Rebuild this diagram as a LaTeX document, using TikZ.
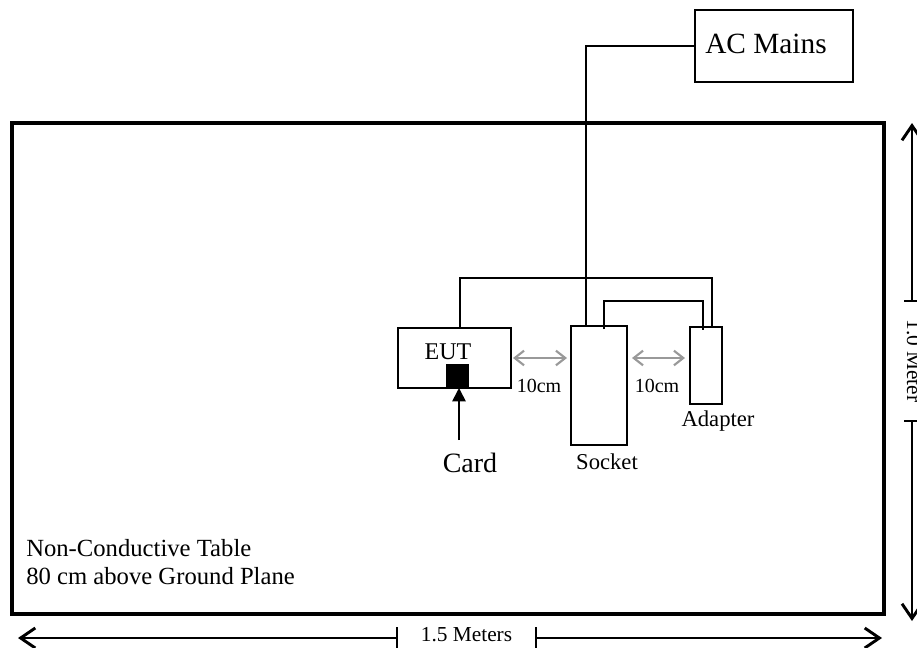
\documentclass[tikz,border=0pt]{standalone}
\usepackage{fontspec}
\setmainfont{Liberation Serif}
\usetikzlibrary{arrows.meta,positioning,calc}
\definecolor{ecGray}{HTML}{999999}
\tikzset{
  box/.style={draw=black, line width=1.5pt, inner sep=0pt, outer sep=0pt},
  wire/.style={line width=1.5pt},
  gap/.style={{Straight Barb[length=7pt,width=11pt,line width=1.6pt]}-{Straight Barb[length=7pt,width=11pt,line width=1.6pt]}, draw=ecGray, line width=1.4pt},
  dim/.style={-{Straight Barb[length=11pt,width=15pt,line width=2.2pt]}, line width=1.3pt},
  tick/.style={line width=1.3pt},
  lbl/.style={inner sep=0pt, font=\fontsize{17}{20}\selectfont},
}
\begin{document}
\begin{tikzpicture}[x=0.75pt, y=-0.75pt]
\useasboundingbox (0,0) rectangle (917,647);
% table and mains
\node[box, line width=2.6pt, minimum width=654pt, minimum height=368.25pt] (table) at (448,368.5) {};
\node[box, line width=1.1pt, minimum width=118.5pt, minimum height=54pt] (mains) at (774,46) {};
\node[lbl, font=\fontsize{22}{26}\selectfont] (mainslbl) at (766,44) {AC Mains};
% devices
\node[box, minimum width=84.75pt, minimum height=45pt] (eut) at (454.5,358) {};
\node[lbl, font=\fontsize{18}{21}\selectfont] (eutlbl) at (448,352) {EUT};
\node[box, fill=black, minimum width=15.75pt, minimum height=17.25pt] (slot) at (457.5,376.5) {};
\node[box, minimum width=42pt, minimum height=89.25pt] (socket) at (599,385.5) {};
\node[box, minimum width=24pt, minimum height=57.75pt] (adapter) at (706,365.5) {};
\node[lbl, font=\fontsize{21}{25}\selectfont] (card) at (470,463) {Card};
\node[lbl] (socketlbl) at (607,462) {Socket};
\node[lbl] (adapterlbl) at (718,421) {Adapter};
\node[lbl, font=\fontsize{15}{18}\selectfont] (gapa) at (539,386) {10cm};
\node[lbl, font=\fontsize{15}{18}\selectfont] (gapb) at (657,386) {10cm};
% wiring
\coordinate (sockin) at ($(socket.north west)+(15,-1)$);
\coordinate (eutout) at ($(eut.north west)+(62,0)$);
\coordinate (adpa) at ($(adapter.north west)+(22,-1)$);
\coordinate (sockout) at ($(socket.north west)+(33,3)$);
\coordinate (adpb) at ($(adapter.north west)+(13,3)$);
\draw[wire, line width=1.8pt] (mains.west) -| (sockin);
\draw[wire] (eutout) -- ++(0,-50) -| (adpa);
\draw[wire] (sockout) -- ++(0,-28) -| (adpb);
\draw[-{Triangle[length=10pt,width=10pt]}, line width=1.3pt] ($(slot.south)+(1.5,52)$) -- ($(slot.south)+(1.5,0)$);
% distances
\draw[gap] ($(eut.east)+(2,0)$) -- ($(socket.west|-eut.east)+(-4,0)$);
\draw[gap] ($(socket.east|-eut.east)+(5,0)$) -- ($(adapter.west|-eut.east)+(-5,0)$);
% note
\node[lbl, font=\fontsize{18.5}{21}\selectfont, align=left, anchor=west] (note) at (26,562)
  {Non-Conductive Table\\80 cm above Ground Plane};
% overall dimensions
\coordinate (tl) at (397,638);
\coordinate (tr) at (536,638);
\coordinate (dimL) at (18,638);
\coordinate (dimR) at (882,638);
\node[lbl, font=\fontsize{16}{19}\selectfont] (meters) at (466.5,635) {1.5 Meters};
\draw[dim] (tl) -- (dimL);
\draw[dim] (tr) -- (dimR);
\draw[tick] ($(tl)+(0,-11)$) -- ($(tl)+(0,12)$);
\draw[tick] ($(tr)+(0,-11)$) -- ($(tr)+(0,12)$);
\coordinate (tu) at (912,301);
\coordinate (td) at (912,421);
\coordinate (dimT) at (912,123);
\coordinate (dimB) at (912,621);
\node[lbl, font=\fontsize{16}{19}\selectfont, rotate=-90, anchor=base] (meter) at (907,361) {1.0 Meter};
\draw[dim] (tu) -- (dimT);
\draw[dim] (td) -- (dimB);
\draw[tick] ($(tu)+(-8,0)$) -- ($(tu)+(10,0)$);
\draw[tick] ($(td)+(-8,0)$) -- ($(td)+(10,0)$);
\end{tikzpicture}
\end{document}
